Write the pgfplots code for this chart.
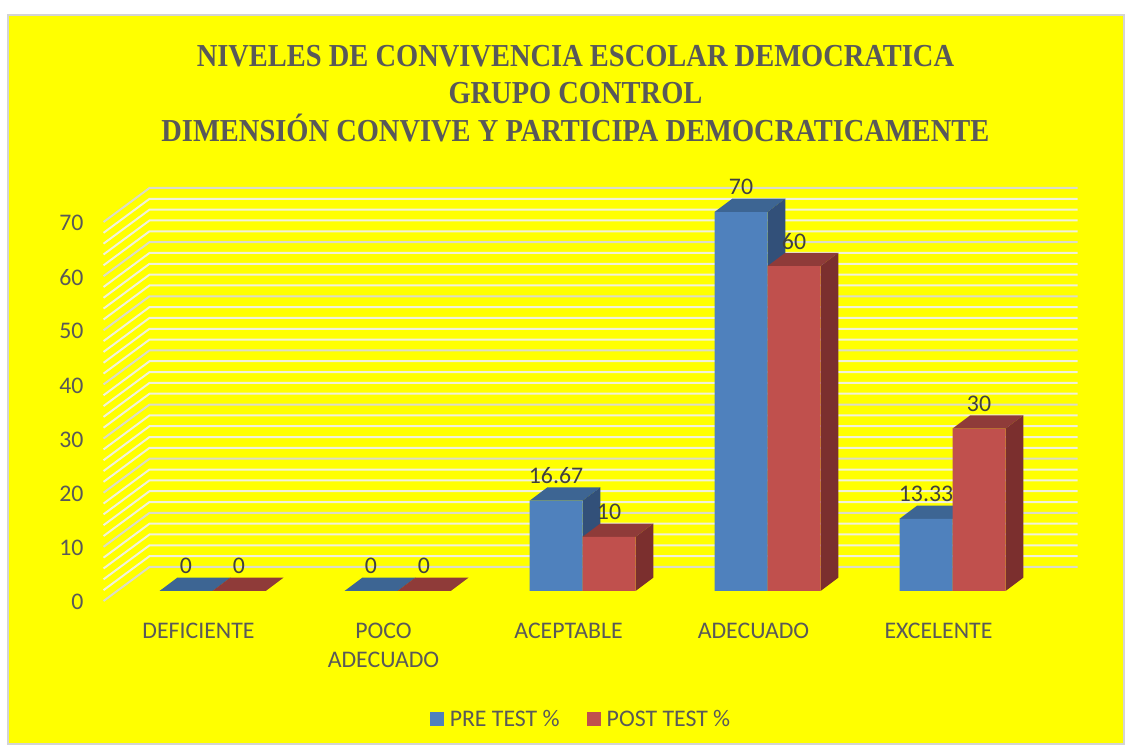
\documentclass[border=0pt]{standalone}
\usepackage{fontspec}
\usepackage{pgfplots}
\pgfplotsset{compat=1.18}
\setmainfont{Carlito}
\newfontfamily\titlefont[FakeStretch=0.89]{Liberation Serif}
\definecolor{bg}{HTML}{FFFF00}
\definecolor{txt}{HTML}{595959}
\definecolor{lab}{HTML}{404040}
\definecolor{bluF}{HTML}{4F81BD}
\definecolor{bluT}{HTML}{3D6593}
\definecolor{bluS}{HTML}{325079}
\definecolor{redF}{HTML}{C0504D}
\definecolor{redT}{HTML}{8F3B39}
\definecolor{redS}{HTML}{7B2F2E}
\definecolor{gmaj}{HTML}{DCDCC8}
\definecolor{gmin}{HTML}{F1F1DC}
\newcommand\bigfont{\fontsize{23.8}{29}\selectfont}
% top and side faces of a bar: left edge, right edge, value
\newcommand\faces[5]{%
  \addplot[forget plot,fill=#4,draw=none] coordinates {(#1,#3) (#2,#3) (#2+0.0962,#3+2.46) (#1+0.0962,#3+2.46)} --cycle;
  \addplot[forget plot,fill=#5,draw=none] coordinates {(#2,#3) (#2+0.0962,#3+2.46) (#2+0.0962,2.46) (#2,0)} --cycle;
}
\newcommand\gridl[2]{%
  \addplot[forget plot,color=#2,line width=2pt] coordinates {(-0.589,#1-1.848) (-0.3405,#1+4.436) (4.6757,#1+4.436)};
}
\begin{document}
\begin{tikzpicture}[x=1pt,y=1pt]
\fill[white] (0,0) rectangle (1131,746);
\fill[bg,draw=black!17,line width=1.2pt] (8,2) rectangle (1124,731);
\begin{axis}[
  at={(87.5pt,145pt)},anchor=south west,
  scale only axis,width=990pt,height=413pt,
  xmin=-0.6757,xmax=4.6757,ymin=-1.848,ymax=74.436,
  clip=false,
  axis line style={draw=none},
  tick style={draw=none},
  xtick={0,1,2,3,4},
  xticklabels={DEFICIENTE,{POCO\\ADECUADO},ACEPTABLE,ADECUADO,EXCELENTE},
  ytick={-1.848,8.152,18.152,28.152,38.152,48.152,58.152,68.152},
  yticklabels={0,10,20,30,40,50,60,70},
  xticklabel style={font=\bigfont,text=txt,align=center,xshift=-14pt,anchor=north,yshift=-19pt},
  yticklabel style={font=\bigfont,text=txt,anchor=east,xshift=-0.5pt,yshift=-1pt},
  title={NIVELES DE CONVIVENCIA ESCOLAR DEMOCRATICA\\GRUPO CONTROL\\DIMENSIÓN CONVIVE Y PARTICIPA DEMOCRATICAMENTE},
  title style={at={(0.4929,1.214)},anchor=center,align=center,text=txt,
    font=\titlefont\bfseries\fontsize{32}{37.5}\selectfont},
  legend style={at={(0.4985,-0.2857)},anchor=center,draw=none,fill=none,
    legend columns=2,font=\bigfont,text=txt,
    /tikz/every even column/.append style={column sep=25pt}},
]
\gridl{0}{gmaj}\gridl{2}{gmin}\gridl{4}{gmin}\gridl{6}{gmin}\gridl{8}{gmin}
\gridl{10}{gmaj}\gridl{12}{gmin}\gridl{14}{gmin}\gridl{16}{gmin}\gridl{18}{gmin}
\gridl{20}{gmaj}\gridl{22}{gmin}\gridl{24}{gmin}\gridl{26}{gmin}\gridl{28}{gmin}
\gridl{30}{gmaj}\gridl{32}{gmin}\gridl{34}{gmin}\gridl{36}{gmin}\gridl{38}{gmin}
\gridl{40}{gmaj}\gridl{42}{gmin}\gridl{44}{gmin}\gridl{46}{gmin}\gridl{48}{gmin}
\gridl{50}{gmaj}\gridl{52}{gmin}\gridl{54}{gmin}\gridl{56}{gmin}\gridl{58}{gmin}
\gridl{60}{gmaj}\gridl{62}{gmin}\gridl{64}{gmin}\gridl{66}{gmin}\gridl{68}{gmin}
\gridl{70}{gmaj}
% PRE TEST
\faces{-0.2865}{0}{0}{bluT}{bluS}
\faces{0.7135}{1}{0}{bluT}{bluS}
\faces{1.7135}{2}{16.67}{bluT}{bluS}
\faces{2.7135}{3}{70}{bluT}{bluS}
\faces{3.7135}{4}{13.33}{bluT}{bluS}
\addplot[ybar,bar width=53pt,bar shift=-26.5pt,fill=bluF,draw=none,
  legend image code/.code={\fill[bluF] (0pt,-7pt) rectangle (14pt,7pt);\path (0pt,0pt) (18pt,0pt);},
  nodes near coords,
  /pgf/number format/assume math mode=true,/pgf/number format/precision=2,
  nodes near coords style={font=\bigfont,text=lab,anchor=center,xshift=-26.5pt,yshift=25pt}]
  coordinates {(0,0) (1,0) (2,16.67) (3,70) (4,13.33)};
\addlegendentry{PRE TEST \%}
% POST TEST
\faces{0}{0.2865}{0}{redT}{redS}
\faces{1}{1.2865}{0}{redT}{redS}
\faces{2}{2.2865}{10}{redT}{redS}
\faces{3}{3.2865}{60}{redT}{redS}
\faces{4}{4.2865}{30}{redT}{redS}
\addplot[ybar,bar width=53pt,bar shift=26.5pt,fill=redF,draw=none,
  legend image code/.code={\fill[redF] (0pt,-7pt) rectangle (14pt,7pt);\path (0pt,0pt) (18pt,0pt);},
  nodes near coords,
  /pgf/number format/assume math mode=true,/pgf/number format/precision=2,
  nodes near coords style={font=\bigfont,text=lab,anchor=center,xshift=26.5pt,yshift=25pt}]
  coordinates {(0,0) (1,0) (2,10) (3,60) (4,30)};
\addlegendentry{POST TEST \%}
\end{axis}
\end{tikzpicture}
\end{document}
